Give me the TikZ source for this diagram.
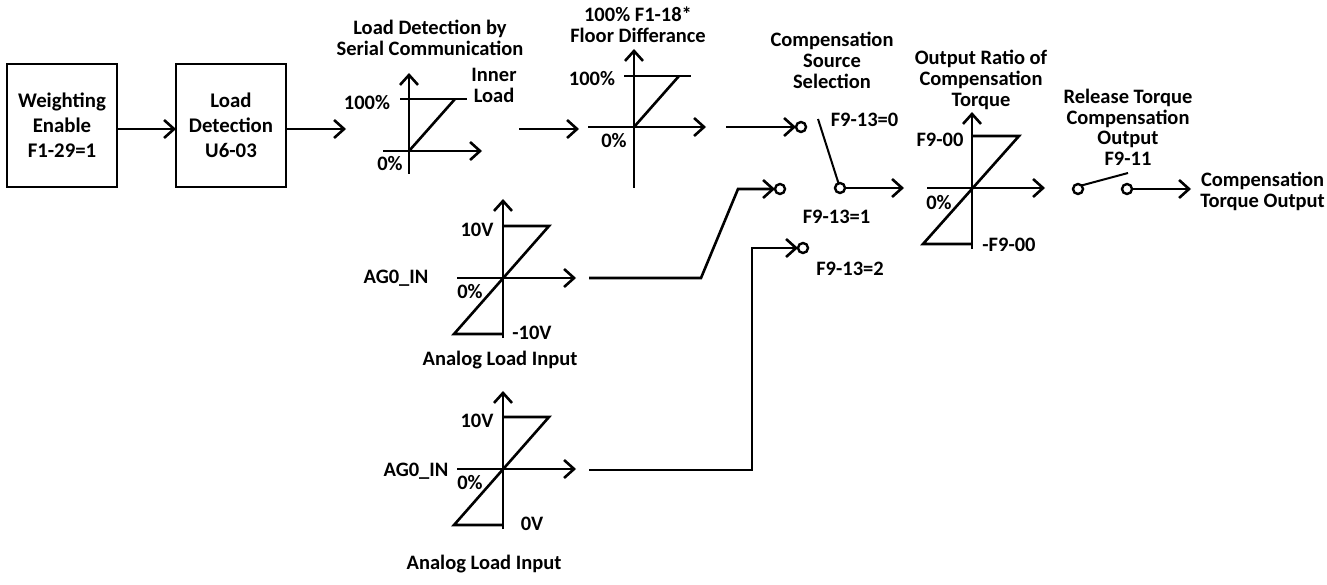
\documentclass[tikz,border=0pt]{standalone}
\usepackage{fontspec}
\setmainfont{Carlito}
\usetikzlibrary{arrows.meta}
\tikzset{
  x=1pt,y=-1pt,
  every node/.style={inner sep=0pt,outer sep=0pt},
  ln/.style={line width=2.6pt,line join=miter},
  arr/.style={ln,-{Straight Barb[length=10pt,width=18pt,line width=2.6pt]}},
  box/.style={draw,line width=2.6pt,minimum width=110pt,minimum height=123pt,align=center,font=\fontsize{20.8}{25}\selectfont\bfseries},
  lbl/.style={font=\fontsize{20.5}{20.8}\selectfont\bfseries,text height=13pt,text depth=0pt,anchor=center},
  lblm/.style={align=center,font=\fontsize{20.5}{20.8}\selectfont\bfseries,anchor=north},
  term/.style={circle,draw,line width=2.4pt,minimum size=10pt,fill=white},
}
\begin{document}
\begin{tikzpicture}
\useasboundingbox (0,0) rectangle (1327,585);
% boxes
\node[box] (b1) at (62,125.5) {Weighting\\Enable\\F1-29=1};
\node[box] (b2) at (231,125.5) {Load\\Detection\\U6-03};
\draw[arr] (b1.east |- 0,129) coordinate (b1o) -- (b2.west |- 0,129) coordinate (b2i);
\coordinate (c1in) at (346,129);
\draw[arr] (b2.east |- 0,129) -- (c1in);
% chart 1
\coordinate (c1o) at (409,151);
\coordinate (c1top) at (409,73); \coordinate (c1bot) at (409,174);
\coordinate (c1l) at (383,151); \coordinate (c1r) at (482,151);
\coordinate (c1a) at (400,99); \coordinate (c1b) at (467,99); \coordinate (c1d) at (455,99);
\draw[arr] (c1bot) -- (c1top);
\draw[arr] (c1l) -- (c1r);
\draw[ln] (c1a) -- (c1b);
\draw[ln] (c1o) -- (c1d);
% link 1-2
\coordinate (l12a) at (519,129); \coordinate (l12b) at (579,129);
\draw[arr] (l12a) -- (l12b);
% chart 2
\coordinate (c2o) at (634,127);
\coordinate (c2top) at (634,49); \coordinate (c2bot) at (634,188);
\coordinate (c2l) at (588,127); \coordinate (c2r) at (706,127);
\coordinate (c2a) at (624,76); \coordinate (c2b) at (691,76); \coordinate (c2d) at (679,76);
\draw[arr] (c2bot) -- (c2top);
\draw[arr] (c2l) -- (c2r);
\draw[ln] (c2a) -- (c2b);
\draw[ln] (c2o) -- (c2d);
% selector terminals
\node[term] (t0) at (801,127) {};
\node[term] (t1) at (780,189) {};
\node[term] (t2) at (803,248) {};
\node[term] (tc) at (840,188) {};
\coordinate (s0) at (726,127);
\draw[arr] (s0) -- (t0.west);
\coordinate (swtip) at (818,119);
\draw[line width=2pt] (swtip) -- (tc);
\coordinate (swout) at (904,188);
\draw[arr] (tc.east) -- (swout);
% chart 3
\coordinate (c3o) at (503,278);
\coordinate (c3top) at (503,199); \coordinate (c3bot) at (503,338);
\coordinate (c3l) at (457,278); \coordinate (c3r) at (576,278);
\coordinate (c3d) at (549,226); \coordinate (c3e) at (454,334);
\draw[arr] (c3bot) -- (c3top);
\draw[arr] (c3l) -- (c3r);
\draw[ln] (c3o |- c3d) -- (c3d) -- (c3e) -- (c3o |- c3e);
\coordinate (l3a) at (589,278); \coordinate (l3b) at (701,278); \coordinate (l3c) at (738,189);
\draw[arr] (l3a) -- (l3b) -- (l3c) -- (t1.west |- l3c);
% chart 4
\coordinate (c4o) at (503,469);
\coordinate (c4top) at (503,391); \coordinate (c4bot) at (503,529);
\coordinate (c4l) at (457,469); \coordinate (c4r) at (576,469);
\coordinate (c4d) at (549,417); \coordinate (c4e) at (454,525);
\draw[arr] (c4bot) -- (c4top);
\draw[arr] (c4l) -- (c4r);
\draw[ln] (c4o |- c4d) -- (c4d) -- (c4e) -- (c4o |- c4e);
\coordinate (l4a) at (589,470); \coordinate (l4b) at (752,470); \coordinate (l4c) at (752,248);
\draw[arr] (l4a) -- (l4b) -- (l4c) -- (t2.west |- l4c);
% output chart
\coordinate (c5o) at (972,188);
\coordinate (c5top) at (972,112); \coordinate (c5bot) at (972,249);
\coordinate (c5l) at (927,188); \coordinate (c5r) at (1045,188);
\coordinate (c5d) at (1019,136); \coordinate (c5e) at (923,244);
\draw[arr] (c5bot) -- (c5top);
\draw[arr] (c5l) -- (c5r);
\draw[ln] (c5o |- c5d) -- (c5d) -- (c5e) -- (c5o |- c5e);
% release switch
\node[term] (r1) at (1078,189) {};
\node[term] (r2) at (1127,189) {};
\coordinate (rtip) at (1128,173);
\draw[line width=2pt] (r1.north east) -- (rtip);
\coordinate (rout) at (1191,189);
\draw[arr] (r2.east) -- (rout);
% labels
\node[lblm] (t01) at (430,20) {Load Detection by\\Serial Communication};
\node[lblm] (t02) at (494,68) {Inner\\Load};
\node[lbl] (t03) at (367,103) {100\%};
\node[lbl] (t04) at (390,164) {0\%};
\node[lblm] (t05) at (638,7) {100\% F1-18*\\Floor Differance};
\node[lbl] (t06) at (592,79) {100\%};
\node[lbl] (t07) at (614,141) {0\%};
\node[lblm] (t08) at (832,32) {Compensation\\Source\\Selection};
\node[lbl] (t09) at (864.5,120) {F9-13=0};
\node[lbl] (t10) at (836.5,217) {F9-13=1};
\node[lbl] (t11) at (850,269) {F9-13=2};
\node[lblm] (t12) at (981,50) {Output Ratio of\\Compensation\\Torque};
\node[lbl] (t13) at (940,140) {F9-00};
\node[lbl] (t14) at (939,203) {0\%};
\node[lbl] (t15) at (1009,245) {-F9-00};
\node[lblm] (t16) at (1128,89) {Release Torque\\Compensation\\Output\\F9-11};
\node[lblm] (t17) at (1262.5,172) {Compensation\\Torque Output};
\node[lbl] (t18) at (396,277) {AG0\_IN};
\node[lbl] (t19) at (477,230) {10V};
\node[lbl] (t20) at (470,292) {0\%};
\node[lbl] (t21) at (532,333) {-10V};
\node[lbl] (t22) at (500,359) {Analog Load Input};
\node[lbl] (t23) at (477,421) {10V};
\node[lbl] (t24) at (416,470) {AG0\_IN};
\node[lbl] (t25) at (470,483) {0\%};
\node[lbl] (t26) at (532,524) {0V};
\node[lbl] (t27) at (484,563) {Analog Load Input};
\end{tikzpicture}
\end{document}
